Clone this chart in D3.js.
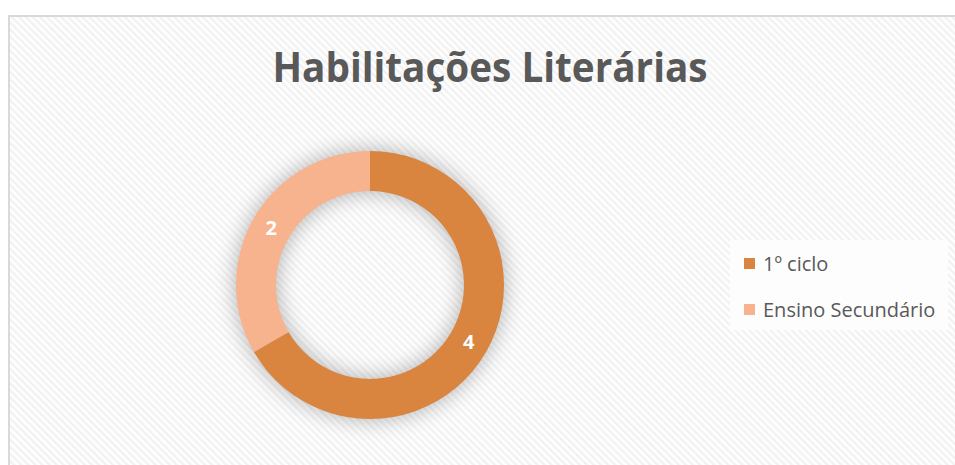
<!DOCTYPE html>
<html>
<head>
<meta charset="utf-8">
<script src="https://cdn.jsdelivr.net/npm/d3@7"></script>
<style>
  body { margin: 0; background: #ffffff; }
  svg { display: block; }
</style>
</head>
<body>
<div id="chart"></div>
<script>
// data
let categories = ["1º ciclo", "Ensino Secundário"];
let values = [4, 2];
let colors = ["#d9843f", "#f7b38d"];
let chartTitle = "Habilitações Literárias";

let width = 955;
let height = 465;

let cx = 370, cy = 285;
let outerR = 134, innerR = 94;
let fontFam = "'Open Sans', sans-serif";

let svg = d3.select("#chart").append("svg")
    .attr("width", width)
    .attr("height", height);

let defs = svg.append("defs");

// diagonal stripes background ("\" direction)
let pattern = defs.append("pattern")
    .attr("id", "stripes")
    .attr("patternUnits", "userSpaceOnUse")
    .attr("width", 5)
    .attr("height", 5)
    .attr("patternTransform", "rotate(-45)");
pattern.append("rect").attr("width", 5).attr("height", 5).attr("fill", "#ffffff");
pattern.append("rect").attr("width", 2.5).attr("height", 5).attr("fill", "#f2f2f2");

let shadow = defs.append("filter")
    .attr("id", "glow")
    .attr("x", "-40%").attr("y", "-40%")
    .attr("width", "180%").attr("height", "180%");
shadow.append("feGaussianBlur").attr("stdDeviation", 11);

// frame
svg.append("rect")
    .attr("x", 9)
    .attr("y", 16)
    .attr("width", width)
    .attr("height", height)
    .attr("fill", "url(#stripes)")
    .attr("stroke", "#d9d9d9")
    .attr("stroke-width", 2);

// title
svg.append("text")
    .text(chartTitle)
    .attr("x", 490)
    .attr("y", 82)
    .attr("text-anchor", "middle")
    .attr("font-family", fontFam)
    .attr("font-weight", "bold")
    .attr("font-size", 41)
    .attr("textLength", 435)
    .attr("lengthAdjust", "spacingAndGlyphs")
    .attr("fill", "#595959");

// donut
let pie = d3.pie().sort(null).value(d => d);
let arcs = pie(values);
let arc = d3.arc().innerRadius(innerR).outerRadius(outerR);
let midR = (innerR + outerR) / 2;
let labelArc = d3.arc().innerRadius(midR).outerRadius(midR);

let donut = svg.append("g").attr("transform", "translate(" + cx + "," + cy + ")");

// soft shadow ring
donut.append("path")
    .attr("d", d3.arc().innerRadius(innerR).outerRadius(outerR)({startAngle: 0, endAngle: 2 * Math.PI}))
    .attr("fill", "#000000")
    .attr("opacity", 0.3)
    .attr("filter", "url(#glow)");

donut.selectAll(".slice").data(arcs).enter()
    .append("path")
    .attr("class", "slice")
    .attr("d", arc)
    .attr("fill", (d, i) => colors[i]);

donut.selectAll(".lbl").data(arcs).enter()
    .append("text")
    .attr("class", "lbl")
    .text(d => d.data)
    .attr("transform", d => "translate(" + labelArc.centroid(d) + ")")
    .attr("text-anchor", "middle")
    .attr("dy", "0.36em")
    .attr("font-family", fontFam)
    .attr("font-weight", "bold")
    .attr("font-size", 20)
    .attr("fill", "#ffffff");

// legend
let legend = svg.append("g");
legend.append("rect")
    .attr("x", 730)
    .attr("y", 240)
    .attr("width", 218)
    .attr("height", 90)
    .attr("fill", "#fdfdfd");

let legendItems = legend.selectAll(".item").data(categories).enter()
    .append("g")
    .attr("class", "item")
    .attr("transform", (d, i) => "translate(744," + (258 + i * 46) + ")");

legendItems.append("rect")
    .attr("width", 11)
    .attr("height", 11)
    .attr("fill", (d, i) => colors[i]);

legendItems.append("text")
    .text(d => d)
    .attr("x", 19)
    .attr("y", 12.5)
    .attr("font-family", fontFam)
    .attr("font-size", 20)
    .attr("fill", "#595959");
</script>
</body>
</html>
